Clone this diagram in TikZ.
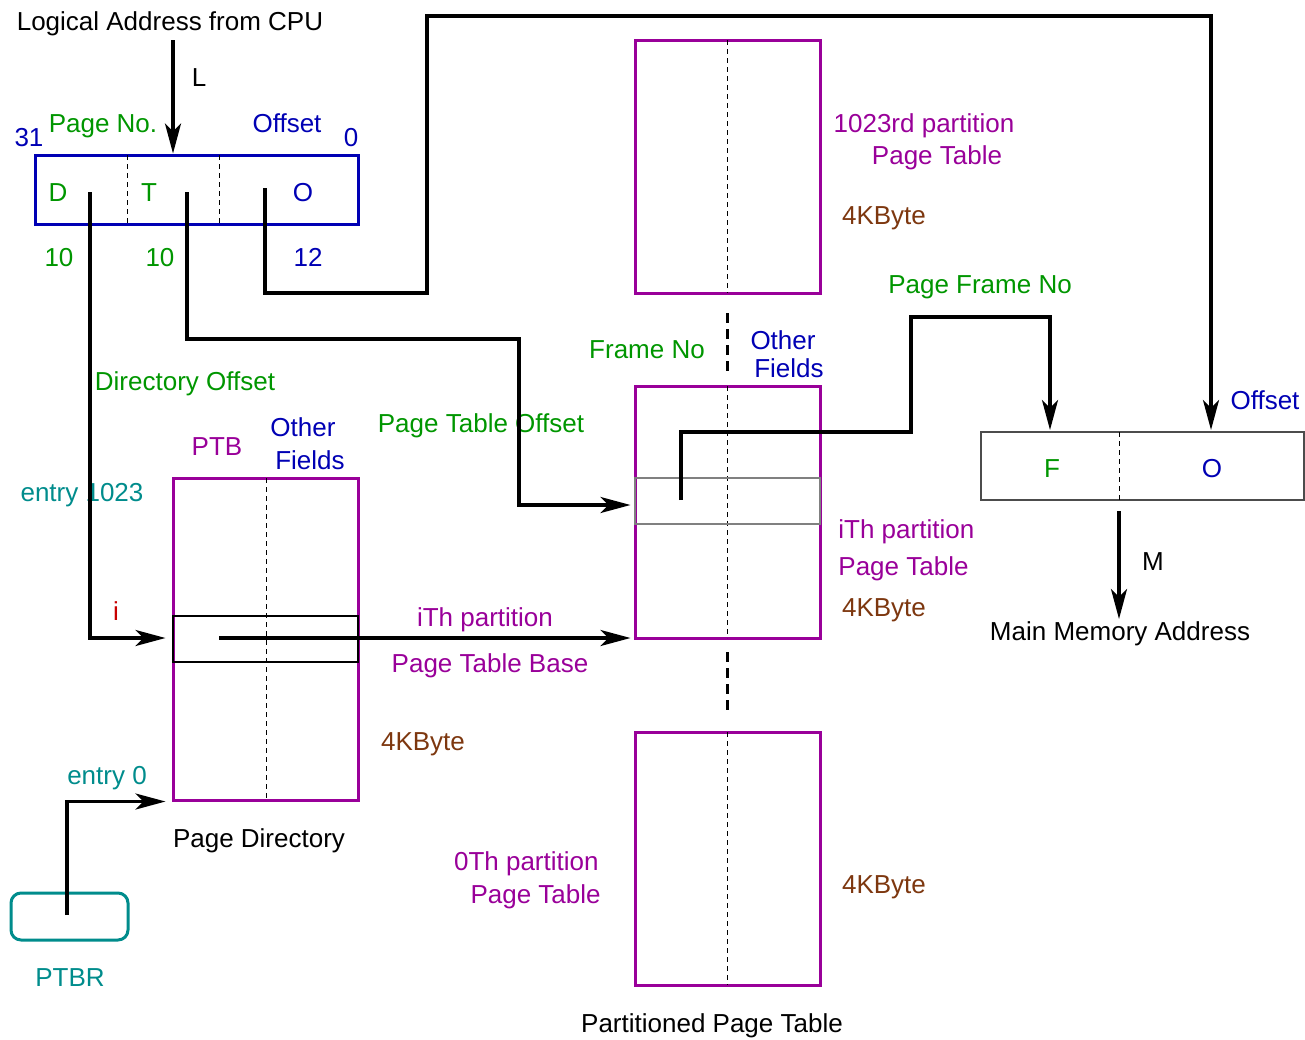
\documentclass[tikz,border=0pt]{standalone}
\usepackage{fontspec}
\setmainfont{Liberation Sans}
\usetikzlibrary{arrows.meta,positioning,calc}
\definecolor{ptpurple}{RGB}{153,0,153}
\definecolor{fgreen}{RGB}{0,150,0}
\definecolor{fblue}{RGB}{0,0,180}
\definecolor{fteal}{RGB}{0,140,140}
\definecolor{fbrown}{RGB}{125,55,15}
\definecolor{fred}{RGB}{200,0,0}

\begin{document}
\begin{tikzpicture}[x=0.5pt, y=-0.5pt,
    every node/.style={font=\fontsize{13}{15.6}\selectfont, inner sep=0pt,
      anchor=base, yshift=-4.7pt},
    >={Stealth[length=15pt,width=8pt,inset=4pt]},
    link/.style={->, line width=1.8pt},
    boxnode/.style={inner sep=0pt, anchor=center, yshift=4.7pt},
    regbox/.style={boxnode, draw=fblue, line width=1.5pt},
    tablebox/.style={boxnode, draw=ptpurple, line width=1.5pt, minimum width=92.5pt},
    divider/.style={dash pattern=on 2.5pt off 2pt, line width=0.5pt},
    gapline/.style={dash pattern=on 5pt off 3pt, line width=1.5pt},
    rowline/.style={line width=0.6pt}]
  \useasboundingbox (0,0) rectangle (1305,1039);

  % Logical address register
  \node (cpu) at (170,21) {Logical Address from CPU};
  \node[regbox, minimum width=161.5pt, minimum height=34.5pt] (la) at (196.5,189.5) {};
  \draw[divider] (127,155) -- (127,224);
  \draw[divider] (219,155) -- (219,224);
  \node[fgreen] (dfield) at (58,192) {D};
  \node[fgreen] (tfield) at (149,192) {T};
  \node[fblue] (ofield) at (303,192) {O};
  \node[fblue] (bit31) at (29,137) {31};
  \node[fgreen] (pageno) at (103,123) {Page No.};
  \node[fblue] (offlab) at (287,123) {Offset};
  \node[fblue] (bit0) at (351,137) {0};
  \node[fgreen] (dbits) at (59,257) {10};
  \node[fgreen] (tbits) at (160,257) {10};
  \node[fblue] (obits) at (308,257) {12};
  \node (llab) at (199,77) {L};

  % Page directory
  \node[tablebox, minimum height=161pt] (pd) at (265.5,639) {};
  \draw[divider] (266,478) -- (266,800);
  \draw[rowline] (173,616) rectangle (358,662);
  \node[ptpurple] (ptb) at (217,446) {PTB};
  \node[fblue] (pdother1) at (303,427) {Other};
  \node[fblue] (pdother2) at (310,460) {Fields};
  \node[fteal] (e1023) at (82,492) {entry 1023};
  \node[fred] (ilab) at (116,611) {i};
  \node[fteal] (e0) at (107,775) {entry 0};
  \node[fbrown] (pdsize) at (423,741) {4KByte};
  \node (pdname) at (259,838) {Page Directory};
  \node[fgreen] (diroff) at (185,381) {Directory Offset};
  \node[fgreen] (ptoff) at (481,423) {Page Table Offset};
  \node[ptpurple] (ith1) at (485,617) {iTh partition};
  \node[ptpurple] (ith2) at (490,663) {Page Table Base};

  % PTBR
  \node[boxnode, draw=fteal, line width=1.5pt, rounded corners=5pt,
    minimum width=58.5pt, minimum height=23.5pt] (ptbr) at (69.5,916.5) {};
  \node[fteal] (ptbrlab) at (70,977) {PTBR};

  % Partitioned page table
  \node[tablebox, minimum height=126.5pt] (ttop) at (727.5,166.5) {};
  \node[tablebox, minimum height=126pt] (tmid) at (727.5,512) {};
  \node[tablebox, minimum height=126.5pt] (tbot) at (727.5,858.5) {};
  \draw[divider] (727,40) -- (727,293);
  \draw[divider] (727,386) -- (727,638);
  \draw[divider] (727,732) -- (727,985);
  \draw[gapline] (727,313) -- (727,375);
  \draw[gapline] (727,652) -- (727,715);
  \draw[rowline, gray] (635,478) rectangle (820,524);
  \node[ptpurple] (top1) at (924,123) {1023rd partition};
  \node[ptpurple] (top2) at (937,155) {Page Table};
  \node[fbrown] (topsize) at (884,215) {4KByte};
  \node[fgreen] (frameno) at (647,349) {Frame No};
  \node[fblue] (tother1) at (783,340) {Other};
  \node[fblue] (tother2) at (789,368) {Fields};
  \node[ptpurple, anchor=base west] (mid1) at (838,529) {iTh partition};
  \node[ptpurple, anchor=base west] (mid2) at (838,566) {Page Table};
  \node[fbrown] (midsize) at (884,607) {4KByte};
  \node[ptpurple, anchor=base east] (bot1) at (599,861) {0Th partition};
  \node[ptpurple, anchor=base east] (bot2) at (601,894) {Page Table};
  \node[fbrown] (botsize) at (884,884) {4KByte};
  \node (ptname) at (712,1023) {Partitioned Page Table};
  \node[fgreen] (pfn) at (980,284) {Page Frame No};

  % Physical address
  \node[boxnode, draw=black!70, line width=0.6pt, minimum width=161.5pt,
    minimum height=34pt] (pa) at (1142.5,466) {};
  \draw[divider] (1119,432) -- (1119,500);
  \node[fgreen] (ffield) at (1052,468) {F};
  \node[fblue] (pofield) at (1212,468) {O};
  \node[fblue] (paoff) at (1265,400) {Offset};
  \node (mlab) at (1153,561) {M};
  \node (mainmem) at (1120,631) {Main Memory Address};

  % Connectors
  \begin{scope}[every node/.style={}]
    \coordinate (lin) at (173,40);
    \coordinate (dsrc) at (90,192);
    \coordinate (tsrc) at (187,192);
    \coordinate (osrc) at (265,188);
    \coordinate (pdrow) at (219,638);
    \coordinate (ptrow) at (681,500);
    \coordinate (ptbrsrc) at (67,915);
    \coordinate (msrc) at (1119,511);
    \coordinate (mdst) at (1119,619);
    \coordinate (fdst) at (1050,430);
    \coordinate (odst) at (1211,430);
  \end{scope}
  \draw[link] (lin) -- (lin |- la.north);
  \draw[link] (dsrc) |- ([xshift=-3pt]pd.west |- pdrow);
  \draw[link] (tsrc) -- (187,339) -| (519,505) -- ([xshift=-1.5pt]tmid.west |- 0,505);
  \draw[link] (osrc) -- (265,293) -| (427,16) -| (odst);
  \draw[link] (pdrow) -- ([xshift=-1.5pt]tmid.west |- pdrow);
  \draw[link] (ptbrsrc) |- ([xshift=-3pt]pd.south west);
  \draw[link] (ptrow) -- (681,432) -| (911,317) -| (fdst);
  \draw[link] (msrc) -- (mdst);
\end{tikzpicture}
\end{document}
